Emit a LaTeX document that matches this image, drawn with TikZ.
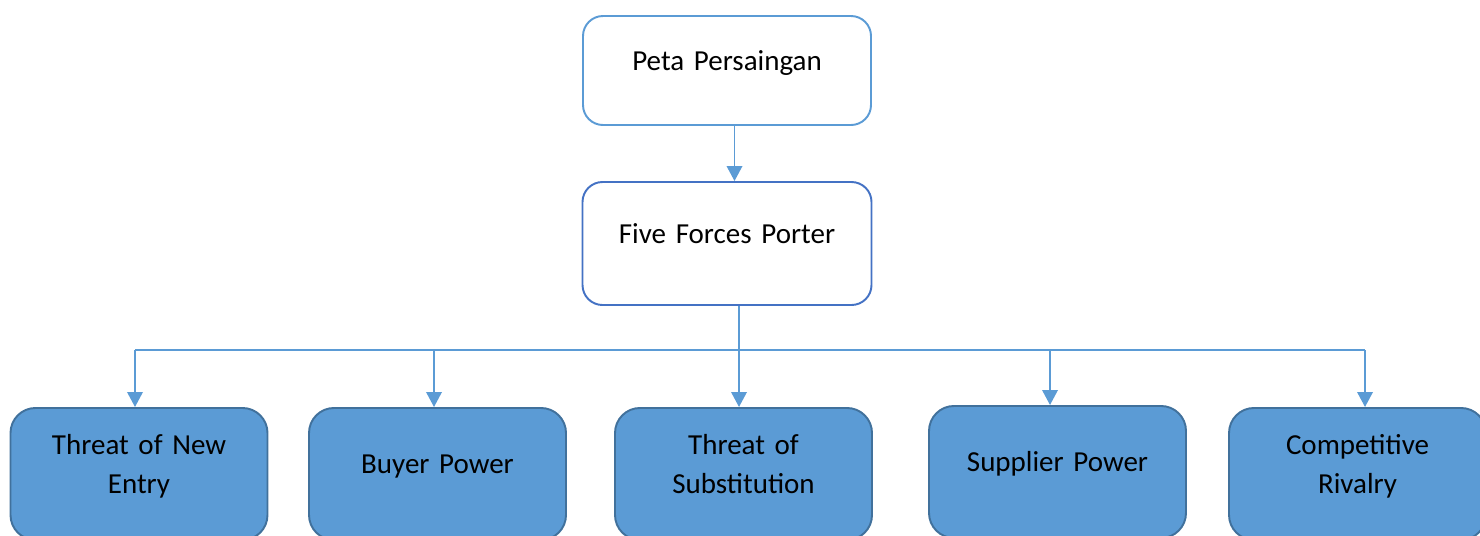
\documentclass[tikz,border=0pt]{standalone}
\usepackage{fontspec}
\setmainfont{Carlito}
\usetikzlibrary{arrows.meta}
\definecolor{lightblue}{HTML}{5B9BD5}
\definecolor{midblue}{HTML}{4472C4}
\definecolor{darkblue}{HTML}{41719C}
\tikzset{
  upper/.style={draw=lightblue, line width=1.1pt, fill=white, rounded corners=0.4cm,
    align=center, text width=5cm, text height=0.4cm, text depth=0.4cm,
    font=\fontsize{16.5}{22.2}\selectfont},
  force/.style={draw=darkblue, line width=1.1pt, fill=lightblue, rounded corners=0.5cm,
    anchor=north, minimum width=5.14cm, minimum height=2.64cm,
    align=center, text width=4.8cm, text height=0.4cm, text depth=0.4cm,
    font=\fontsize{16.5}{22.2}\selectfont},
  twoline/.style={text depth=1.16cm},
  arrowline/.style={draw=lightblue, line width=1.1pt, -{Triangle[width=0.31cm,length=0.3cm]}},
  busline/.style={draw=lightblue, line width=0.6pt}
}
\begin{document}
\begin{tikzpicture}
\useasboundingbox (0,0) rectangle (29.6,-10.7);
\clip (0,0) rectangle (29.6,-10.7);
\node (peta) at (14.54,-1.41) [upper, minimum width=5.76cm, minimum height=2.18cm] {Peta Persaingan};
\node (five) at (14.54,-4.87) [upper, draw=midblue, minimum width=5.78cm, minimum height=2.46cm] {Five Forces Porter};
\draw [arrowline] ([xshift=0.15cm]peta.south) -- ([xshift=0.15cm]five.north);
% the five forces
\node (f1) at (2.78,-8.14) [force, twoline] {Threat of New\\Entry};
\node (f2) at (8.75,-8.14) [force] {Buyer Power};
\node (f3) at (14.87,-8.14) [force, twoline] {Threat of\\Substitution};
\node (f4) at (21.15,-8.10) [force] {Supplier Power};
\node (f5) at (27.15,-8.14) [force, twoline] {Competitive\\Rivalry};
\coordinate (c1) at (2.70,-7.0);
\coordinate (c2) at (8.68,-7.0);
\coordinate (c3) at (14.78,-7.0);
\coordinate (c4) at (21.00,-7.0);
\coordinate (c5) at (27.30,-7.0);
\draw [busline] (c3) -- (c3 |- five.south);
\draw [busline] (c1) -- (c5);
\foreach \i in {1,...,5}
  \draw [arrowline] (c\i) -- (c\i |- f\i.north);
\end{tikzpicture}
\end{document}
